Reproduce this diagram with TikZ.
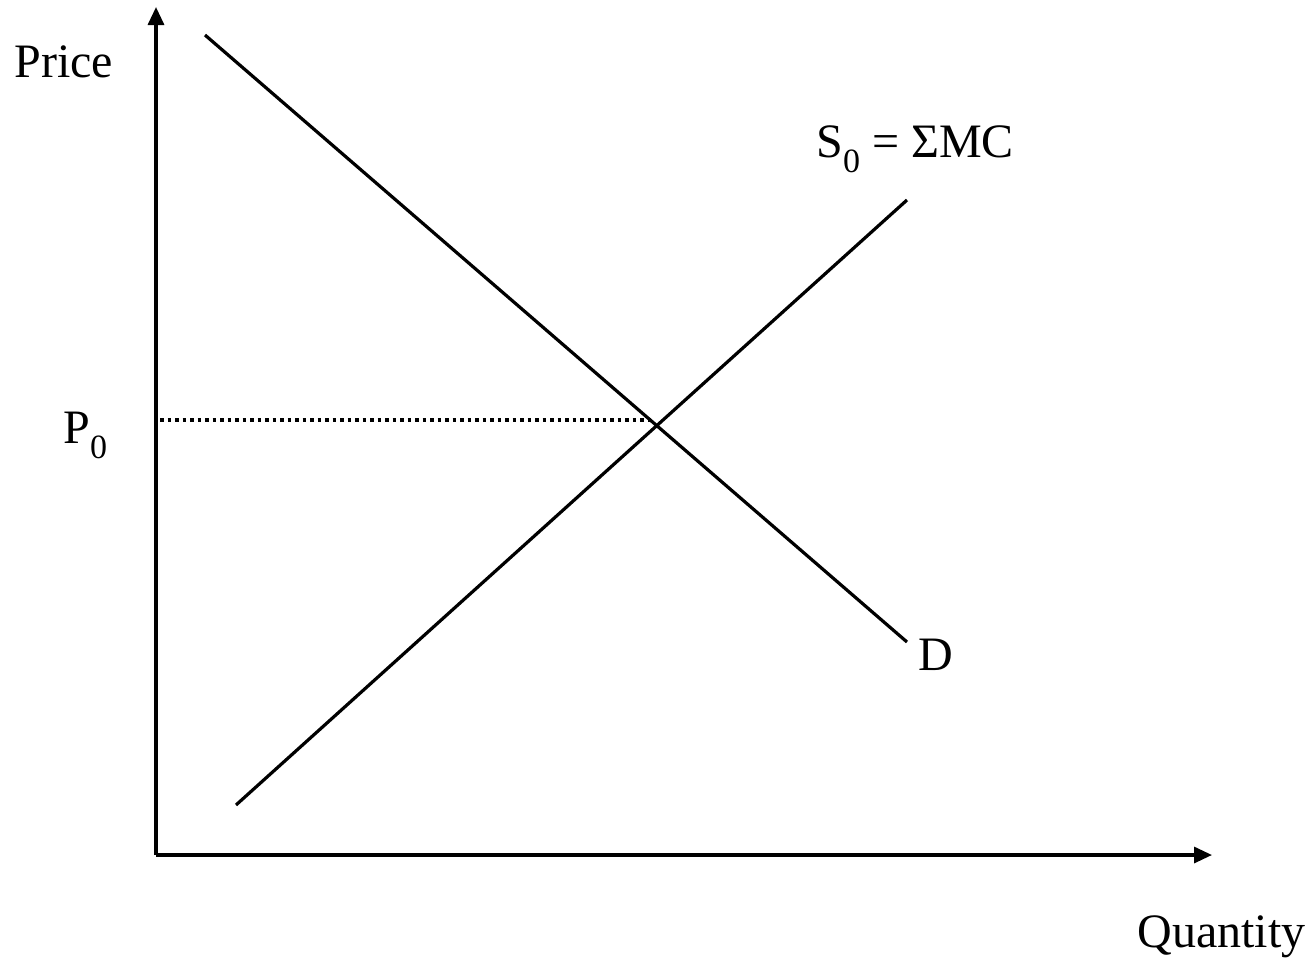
\documentclass[tikz,border=0pt]{standalone}
\usepackage{fontspec}
\setmainfont{Liberation Serif}
\usetikzlibrary{arrows.meta}
\newcommand{\lowsub}[1]{\raisebox{-7.5pt}{\fontsize{17}{17}\selectfont #1}}
\begin{document}
\begin{tikzpicture}[x=0.5pt,y=-0.5pt,
  curve/.style={line width=1.6pt},
  axis/.style={line width=1.6pt,-{Triangle[length=9pt,width=8pt]}},
  guide/.style={line width=1.6pt,dash pattern=on 1.75pt off 2pt},
  lbl/.style={anchor=base west,inner sep=0pt,font=\fontsize{24}{28}\selectfont}]
\useasboundingbox (0,0) rectangle (1311,970);
\coordinate (O) at (156,855);
\coordinate (ytop) at (156,7);
\coordinate (xend) at (1212,855);
\coordinate (D1) at (205,35);
\coordinate (D2) at (907,642);
\coordinate (S1) at (236,805);
\coordinate (S2) at (907,200);
\coordinate (P0a) at (160,420);
\coordinate (P0b) at (652,420);
\draw[axis] (O) -- (ytop);
\draw[axis] (O) -- (xend);
\draw[curve] (D1) -- (D2);
\draw[curve] (S1) -- (S2);
\draw[guide] (P0a) -- (P0b);
\node[lbl] (price) at (14,77) {Price};
\node[lbl] (p0) at (63,443) {P\lowsub{0}};
\node[lbl] (s0) at (816,157) {S\lowsub{0} = ΣMC};
\node[lbl] (d) at (918,670) {D};
\node[lbl] (qty) at (1137,947) {Quantity};
\end{tikzpicture}
\end{document}
